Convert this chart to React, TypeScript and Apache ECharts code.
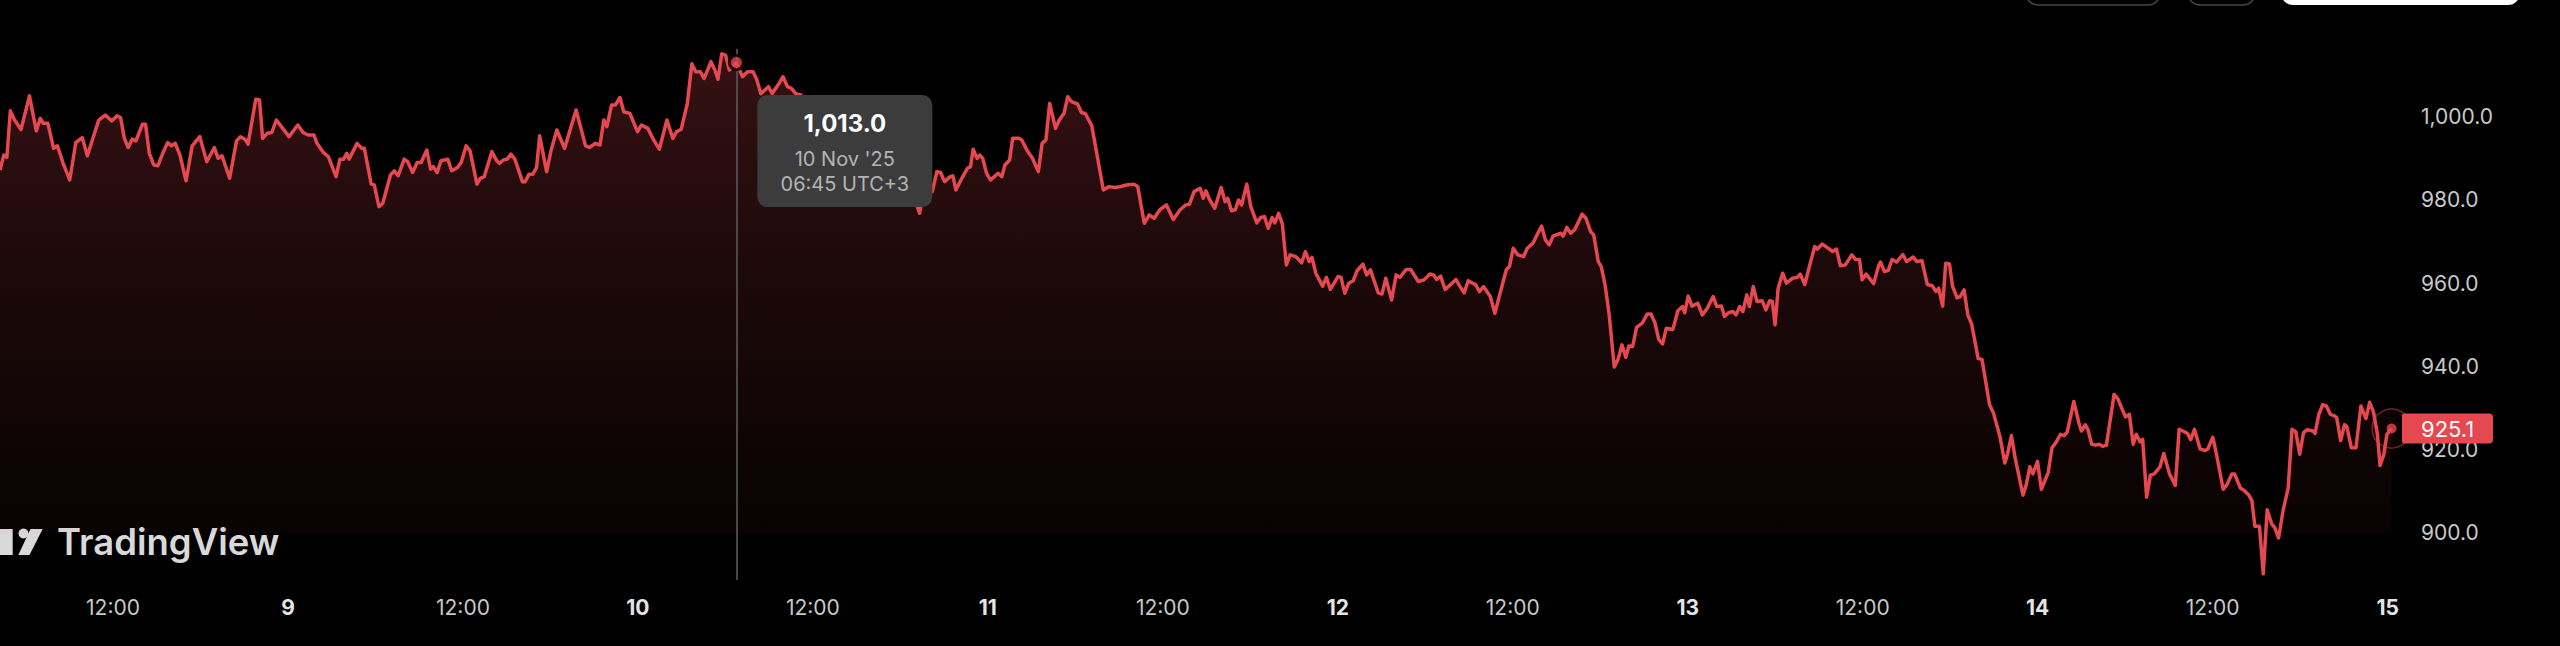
import React, { useEffect, useRef } from 'react';
import * as echarts from 'echarts';

// Hours since 8 Nov '25 00:00 (UTC+3)
const hours = [
  4.25, 4.51, 4.72, 4.96, 5.25, 5.69, 6.27, 6.74, 7.01, 7.22, 7.53, 7.93, 8.19, 8.58, 9.03, 9.45, 9.89, 10.24,
  11.02, 11.47, 11.92, 12.28, 12.52, 12.78, 13.04, 13.31, 13.57, 14.02, 14.23, 14.49, 14.8, 15.07, 15.41, 15.75,
  16.01, 16.27, 16.59, 17.01, 17.43, 17.95, 18.43, 18.95, 19.21, 19.48, 20.0, 20.47, 20.74, 21.05, 21.26, 21.79,
  22.05, 22.26, 22.57, 22.89, 23.2, 23.68, 24.07, 24.67, 25.04, 25.38, 25.78, 25.99, 26.43, 26.77, 27.3, 27.56,
  27.82, 28.03, 28.19, 28.74, 29.06, 29.24, 29.71, 29.92, 30.24, 30.5, 31.03, 31.29, 31.55, 31.97, 32.21, 32.55,
  32.86, 33.13, 33.52, 33.78, 33.97, 34.23, 34.49, 34.96, 35.23, 35.62, 35.88, 36.22, 36.49, 36.96, 37.19, 37.46,
  37.98, 38.32, 38.51, 38.77, 39.03, 39.29, 39.56, 40.08, 40.27, 40.53, 40.79, 41.05, 41.26, 41.74, 42.05, 42.44,
  42.97, 43.76, 44.41, 44.68, 45.07,
  45.4, 45.66, 45.87, 46.19, 46.45, 46.77, 47.03, 47.45, 47.97, 48.24, 48.68, 49.08, 49.47, 49.99, 50.39, 50.65,
  50.97, 51.39, 51.7, 51.96, 52.28, 52.54, 53.01, 53.28, 53.49, 53.75, 54.01, 54.27, 54.75, 55.17, 55.51, 55.9,
  56.16, 56.43, 56.95, 57.21, 57.61, 57.95, 58.26, 58.53, 58.84, 59.18, 59.6, 60.1, 60.7, 61.3, 61.9, 62.5, 63.1,
  63.7, 64.3, 64.9, 65.5, 66.1, 66.7, 67.0, 67.32, 67.58, 68.19, 68.5, 68.76, 69.03, 69.42, 69.6, 69.81, 70.21,
  70.6, 70.81, 70.99, 71.26, 71.44, 71.65, 71.91, 72.18, 72.44, 72.7, 72.96, 73.17, 73.49, 73.7, 74.14, 74.33,
  74.67, 75.06, 75.46, 75.72, 75.98, 76.24, 76.64, 76.9, 77.22, 77.48, 77.74, 78.16, 78.42, 78.69, 79.13, 79.92,
  80.31, 80.71, 81.1, 81.49, 82.02, 82.28, 82.73, 83.07, 83.41, 83.78, 84.25, 84.72, 85.17, 85.56, 85.83, 86.14,
  86.56, 86.77, 86.95, 87.22, 87.56, 88.0, 88.27, 88.45, 88.71, 88.98, 89.19, 89.4, 89.76, 90.03, 90.45, 90.71,
  90.97, 91.23, 91.5, 91.68, 91.94, 92.2, 92.47, 92.73, 93.12, 93.52, 93.78, 94.04, 94.23, 94.49, 94.96, 95.22,
  95.49, 96.01, 96.22, 96.48, 96.75, 97.06, 97.32, 97.72, 97.98, 98.24, 98.77, 99.03, 99.29, 99.69, 100.0, 100.26,
  100.68, 101.0, 101.52, 101.92, 102.31, 102.57, 102.78, 103.05, 103.36, 103.62, 104.1, 104.36, 104.67, 104.94,
  105.46, 105.72, 105.99, 106.46, 106.77, 107.56, 107.77, 108.03, 108.35, 108.74, 109.0, 109.4, 109.66, 109.98,
  110.24, 110.5, 110.76, 111.29, 111.45, 111.71, 111.97, 112.23, 112.76, 113.02, 113.34, 113.55, 113.73, 113.86,
  114.07, 114.33, 114.6, 114.96, 115.22, 115.49, 115.75, 115.96, 116.22, 116.49, 116.88, 117.22, 117.48, 117.75,
  118.01, 118.27, 118.53, 118.98, 119.32, 119.64, 119.79, 120.03, 120.29, 120.69, 121.0, 121.34, 121.74, 122.0,
  122.31, 122.52, 122.79, 123.1, 123.31, 123.57, 123.78, 124.05, 124.23, 124.49, 124.75, 125.1, 125.36, 125.62,
  125.8, 125.99, 126.2, 126.51, 126.77, 127.19, 127.51,
  127.71, 128.03, 128.37, 128.71, 128.89, 129.23, 129.6, 129.94, 130.2, 130.47, 130.81, 131.25, 131.52, 131.78,
  131.96, 132.23, 132.75, 133.09, 133.22, 133.49, 133.75, 134.01, 134.33, 134.75, 135.01, 135.45, 135.72, 136.06,
  136.43, 136.77, 137.03, 137.21, 137.48, 137.69, 137.95, 138.16, 138.47, 138.68, 138.95, 139.21, 139.47, 139.92,
  140.18, 140.7, 140.97, 141.41, 141.75, 141.94, 142.2, 142.46, 142.99, 143.2, 143.46, 143.67, 143.99, 144.25,
  144.72, 144.98, 145.25, 145.56, 145.82, 146.03, 146.48, 146.82, 147.0, 147.27, 147.45, 147.71, 147.98, 148.24,
  148.45, 148.71, 149.24, 149.5, 150.02, 150.29, 150.55, 150.76, 151.02, 151.2, 151.47, 151.73, 151.99, 152.39,
  152.65, 153.04, 153.44, 153.7, 153.96, 154.28, 154.49, 154.75, 155.14, 155.48, 155.67, 156.01, 156.27, 156.72,
  156.98, 157.32, 157.5, 157.9, 158.16, 158.48, 158.69, 158.9, 159.21, 159.47, 159.74, 160.05, 160.26, 160.52,
  160.84, 161.18, 161.44, 161.7, 161.97, 162.23, 162.49, 162.89, 163.02, 163.28, 163.54, 163.8, 164.07, 164.33,
  164.51, 164.78, 165.04, 165.2, 165.51, 165.83, 166.17, 166.51, 166.77, 167.03, 167.3, 167.48, 167.74, 167.95,
  168.27,
];

const prices = [
  987.2, 990.8, 990.2, 1001.4, 999.2, 996.9, 1005.0, 996.6, 999.6, 998.4, 998.4, 992.4, 993.0, 988.8, 984.8, 993.8,
  995.0, 990.6, 999.2, 1000.4, 999.0, 1000.2, 999.8, 994.8, 992.6, 994.6, 994.2, 998.2, 998.2, 991.2, 988.4, 988.2,
  991.2, 993.8, 993.0, 993.6, 990.8, 984.6, 993.0, 995.2, 989.2, 992.6, 990.0, 990.6, 985.2, 994.2, 995.2, 994.6,
  993.4, 1004.2, 1004.0, 994.8, 996.0, 996.2, 999.2, 997.0, 995.2, 998.0, 996.2, 995.6, 995.6, 993.6, 991.4, 990.4,
  985.6, 989.8, 989.8, 991.2, 989.8, 993.6, 992.4, 992.4, 983.8, 983.6, 978.4, 979.2, 986.0, 987.0, 985.8, 989.8,
  989.2, 986.6, 989.0, 989.0, 992.0, 987.4, 988.0, 986.6, 989.4, 989.8, 987.0, 987.8, 989.0, 993.0, 991.8, 983.8,
  985.2, 985.6, 991.6, 989.4, 988.8, 989.6, 989.8, 991.0, 989.8, 984.4, 984.4, 986.2, 986.2, 987.8, 995.4, 986.8,
  992.0, 996.8, 992.4, 1001.6, 993.0, 992.6, 993.6,
  993.2, 999.2, 997.6, 1002.8, 1002.8, 1004.6, 1001.2, 1000.8, 996.4, 998.0, 997.2, 994.4, 992.2, 999.2, 994.8,
  996.4, 997.0, 1003.2, 1012.7, 1010.8, 1010.8, 1009.2, 1013.2, 1011.2, 1009.0, 1015.1, 1014.8, 1011.2, 1013.0,
  1009.6, 1010.8, 1010.8, 1008.8, 1005.5, 1007.2, 1005.6, 1007.6, 1009.6, 1007.2, 1006.8, 1005.5, 1005.2, 1003.0,
  1004.2, 1000.5, 1001.5, 997.0, 998.0, 993.5, 994.5, 990.0, 991.0, 986.5, 987.5, 982.0, 980.0, 976.8, 981.6,
  982.0, 986.8, 986.6, 984.4, 985.6, 985.8, 982.4, 985.2, 987.6, 988.0, 992.2, 990.0, 990.8, 990.0, 986.4, 984.8,
  985.6, 986.4, 985.6, 988.4, 989.6, 994.8, 994.8, 994.4, 992.0, 990.0, 986.8, 993.6, 994.4, 1003.2, 997.2, 999.2,
  1000.8, 1004.8, 1003.6, 1003.0, 1001.0, 1000.7, 997.8, 982.4, 983.2, 983.0, 983.2, 983.6, 983.8, 983.2, 974.4,
  976.4, 975.6, 977.6, 978.8, 975.3, 977.6, 978.8, 979.0, 982.0,
  982.8, 980.4, 982.2, 980.0, 978.0, 983.0, 979.6, 980.4, 977.4, 977.7, 980.0, 978.8, 983.8, 978.4, 974.5, 975.8,
  976.0, 973.2, 975.8, 974.5, 976.8, 974.2, 964.4, 966.8, 966.4, 964.9, 967.6, 965.2, 966.2, 962.4, 959.3, 961.4,
  958.5, 961.6, 961.4, 957.6, 960.0, 960.6, 963.0, 964.6, 962.0, 963.2, 957.7, 957.4, 961.2, 956.0, 962.0, 961.4,
  963.3, 963.3, 960.4, 960.8, 962.2, 962.0, 960.9, 961.7, 958.5, 959.3, 960.9, 959.3, 957.7, 960.6, 959.6, 958.0,
  959.2, 956.8, 952.8, 963.3, 964.0, 968.4, 966.8, 966.4, 968.4, 969.7, 971.6, 973.7, 970.4, 969.2, 971.3, 972.0,
  971.3, 973.4, 972.0, 972.8, 976.6, 975.6, 972.4, 971.6, 968.0, 965.2, 964.0, 959.6, 952.8, 939.9, 941.7, 945.2,
  942.2, 944.9, 944.8, 949.4, 950.4, 952.6, 952.6, 950.5, 946.5, 945.4, 949.2, 948.9, 953.4, 954.4, 952.9, 956.9,
  954.5, 955.2, 952.4, 954.0, 956.8, 954.4, 954.5, 952.0, 952.9, 953.2, 952.4, 954.4, 953.2, 957.2, 954.4, 959.2,
  955.6, 955.8, 953.6, 955.8, 955.6, 950.0, 958.8, 962.4, 960.0, 961.2, 961.4,
  962.2, 959.7, 964.4, 968.8, 968.2, 969.4, 968.5, 967.6, 968.2, 964.2, 964.4, 966.8, 965.7, 965.7, 960.8, 962.2,
  959.9, 964.2, 965.1, 962.8, 963.1, 965.7, 965.1, 966.9, 965.2, 966.3, 965.2, 965.4, 959.7, 959.4, 958.0, 958.8,
  954.5, 964.8, 964.6, 959.3, 956.5, 956.8, 958.4, 952.4, 950.2, 941.9, 941.7, 930.8, 928.8, 923.2, 916.8, 919.1,
  923.4, 917.9, 909.1, 911.4, 915.9, 914.2, 917.2, 910.5, 914.5, 920.5, 921.7, 923.7, 923.4, 924.3, 931.6, 926.5,
  924.5, 926.0, 924.8, 921.3, 921.1, 921.3, 920.8, 921.1, 933.3, 932.2, 927.9, 928.5, 921.3, 923.7, 921.9, 922.5,
  908.6, 913.9, 914.2, 915.9, 919.1, 914.2, 911.4, 924.9, 924.5, 923.9, 922.4, 924.9, 920.2, 919.8, 920.2, 923.0,
  918.8, 910.5, 911.6, 914.2, 914.2, 910.8, 910.2, 909.1, 907.8, 901.6, 901.6, 890.2, 905.6, 902.2, 901.3, 898.8,
  905.6, 910.8, 924.9, 924.3, 918.9, 924.1, 924.8, 924.5, 923.9, 928.5, 930.8, 930.5, 928.5, 928.2, 927.7, 922.2,
  926.0, 925.6, 920.5, 920.5, 930.5, 927.5, 931.4, 929.1, 923.7, 916.2, 918.9, 923.7, 925.1,
];

const yTicks = [900, 920, 940, 960, 980, 1000];
const xTicks = [12, 24, 36, 48, 60, 72, 84, 96, 108, 120, 132, 144, 156, 168];
const hoverHour = 54.75;

const RED = '#e5484f';
const FONT = 'Inter, "Noto Sans", sans-serif';

const fmtPrice = (v: number) =>
  v.toLocaleString('en-US', { minimumFractionDigits: 1, maximumFractionDigits: 1 });

export default function App() {
  const ref = useRef<HTMLDivElement>(null);

  useEffect(() => {
    if (!ref.current) return;
    const chart = echarts.init(ref.current, null, { renderer: 'svg' });
    const data = hours.map((h, i) => [h, prices[i]]);
    const hoverIdx = hours.indexOf(hoverHour);
    const hoverVal = prices[hoverIdx];
    const lastH = hours[hours.length - 1];
    const lastP = prices[prices.length - 1];

    chart.setOption({
      animation: false,
      backgroundColor: '#000',
      grid: { left: 0, right: 168, top: 0, bottom: 66, containLabel: false },
      xAxis: {
        type: 'value',
        min: 4.25,
        max: 168.3,
        axisLine: { show: false },
        axisTick: { show: false },
        splitLine: { show: false },
        axisLabel: {
          customValues: xTicks,
          margin: 17,
          color: '#c8c8c8',
          fontSize: 21,
          fontFamily: FONT,
          formatter: (v: number) => (v % 24 === 0 ? `{b|${8 + v / 24}}` : '12:00'),
          rich: {
            b: { fontWeight: 'bold', color: '#e4e4e4', fontSize: 21, fontFamily: FONT },
          },
        },
      },
      yAxis: {
        type: 'value',
        position: 'right',
        min: 888.71,
        max: 1028.03,
        axisLine: { show: false },
        axisTick: { show: false },
        splitLine: { show: false },
        axisLabel: {
          customValues: yTicks,
          align: 'left',
          margin: 29,
          color: '#c8c8c8',
          fontSize: 21,
          fontFamily: FONT,
          formatter: (v: number) => fmtPrice(v),
        },
      },
      series: [
        {
          type: 'line',
          data,
          showSymbol: false,
          lineStyle: { color: RED, width: 3.5, join: 'round' },
          areaStyle: {
            origin: 900,
            color: new echarts.graphic.LinearGradient(
              0, 45, 0, 533,
              [
                { offset: 0, color: 'rgba(229,72,79,0.34)' },
                { offset: 0.5, color: 'rgba(229,72,79,0.17)' },
                { offset: 1, color: 'rgba(229,72,79,0.05)' },
              ],
              true
            ),
          },
          markLine: {
            silent: true,
            symbol: 'none',
            label: { show: false },
            lineStyle: { color: '#5e5e5e', width: 1.5, type: 'solid' },
            data: [[{ coord: [hoverHour, 1016.3] }, { coord: [hoverHour, 888.71] }]],
          },
          z: 2,
        },
        {
          type: 'scatter',
          data: [[hoverHour, hoverVal]],
          symbolSize: 14,
          itemStyle: { color: RED, borderColor: '#000', borderWidth: 3 },
          z: 5,
        },
        {
          type: 'scatter',
          data: [[lastH, lastP]],
          symbolSize: 39,
          itemStyle: { color: 'rgba(229,72,79,0.06)', borderColor: 'rgba(229,72,79,0.6)', borderWidth: 1.5 },
          z: 4,
        },
        {
          type: 'scatter',
          data: [[lastH, lastP]],
          symbolSize: 10,
          itemStyle: { color: RED },
          z: 5,
        },
      ],
    });

    const hp = chart.convertToPixel({ gridIndex: 0 }, [hoverHour, hoverVal]) as number[];
    const lp = chart.convertToPixel({ gridIndex: 0 }, [lastH, lastP]) as number[];
    const day = 8 + Math.floor(hoverHour / 24);
    const hh = Math.floor(hoverHour % 24);
    const mm = Math.round((hoverHour % 1) * 60);
    const pad = (n: number) => String(n).padStart(2, '0');
    const tipX = hp[0] + 21;
    const tipW = 175;
    const cx = tipX + tipW / 2;

    chart.setOption({
      graphic: [
        // top-right buttons (cut off)
        { type: 'rect', shape: { x: 2026, y: -40, width: 134, height: 45, r: 12 }, style: { fill: 'none', stroke: '#474747', lineWidth: 1.5 }, z: 10 },
        { type: 'rect', shape: { x: 2188, y: -40, width: 67, height: 45, r: 12 }, style: { fill: 'none', stroke: '#474747', lineWidth: 1.5 }, z: 10 },
        { type: 'rect', shape: { x: 2281, y: -40, width: 239, height: 45, r: 12 }, style: { fill: '#ffffff' }, z: 10 },
        // tooltip
        {
          type: 'group',
          z: 20,
          children: [
            { type: 'rect', shape: { x: tipX, y: 95, width: tipW, height: 112, r: 10 }, style: { fill: '#3c3c3c' }, z: 20 },
            { type: 'text', x: cx, y: 123, style: { text: fmtPrice(hoverVal), fill: '#ffffff', fontSize: 24, fontWeight: 'bold', fontFamily: FONT, align: 'center', verticalAlign: 'middle' }, z: 21 },
            { type: 'text', x: cx, y: 159, style: { text: `${day} Nov '25`, fill: '#b4b4b4', fontSize: 20, fontFamily: FONT, align: 'center', verticalAlign: 'middle' }, z: 21 },
            { type: 'text', x: cx, y: 184, style: { text: `${pad(hh)}:${pad(mm)} UTC+3`, fill: '#b4b4b4', fontSize: 20, fontFamily: FONT, align: 'center', verticalAlign: 'middle' }, z: 21 },
          ],
        },
        // last price label
        { type: 'rect', shape: { x: 2402, y: lp[1] - 15, width: 91, height: 30, r: [2, 4, 4, 2] }, style: { fill: RED }, z: 20 },
        { type: 'text', x: 2421, y: lp[1], style: { text: fmtPrice(lastP), fill: '#ffffff', fontSize: 22, fontFamily: FONT, verticalAlign: 'middle' }, z: 21 },
        // TradingView logo
        {
          type: 'group',
          z: 15,
          children: [
            { type: 'rect', shape: { x: 0, y: 529, width: 12.7, height: 26 }, style: { fill: '#d9d9d9' } },
            { type: 'circle', shape: { cx: 23.5, cy: 533.5, r: 5 }, style: { fill: '#d9d9d9' } },
            { type: 'polygon', shape: { points: [[30.5, 529], [42.7, 529], [29.5, 555], [18.3, 555]] }, style: { fill: '#d9d9d9' } },
            { type: 'text', x: 57, y: 542, style: { text: 'TradingView', fill: '#d9d9d9', fontSize: 36.5, fontWeight: 600, fontFamily: FONT, verticalAlign: 'middle' } },
          ],
        },
      ],
    });

    return () => chart.dispose();
  }, []);

  return (
    <div
      ref={ref}
      style={{ position: 'fixed', left: 0, top: 0, width: 2560, height: 646, background: '#000' }}
    />
  );
}
